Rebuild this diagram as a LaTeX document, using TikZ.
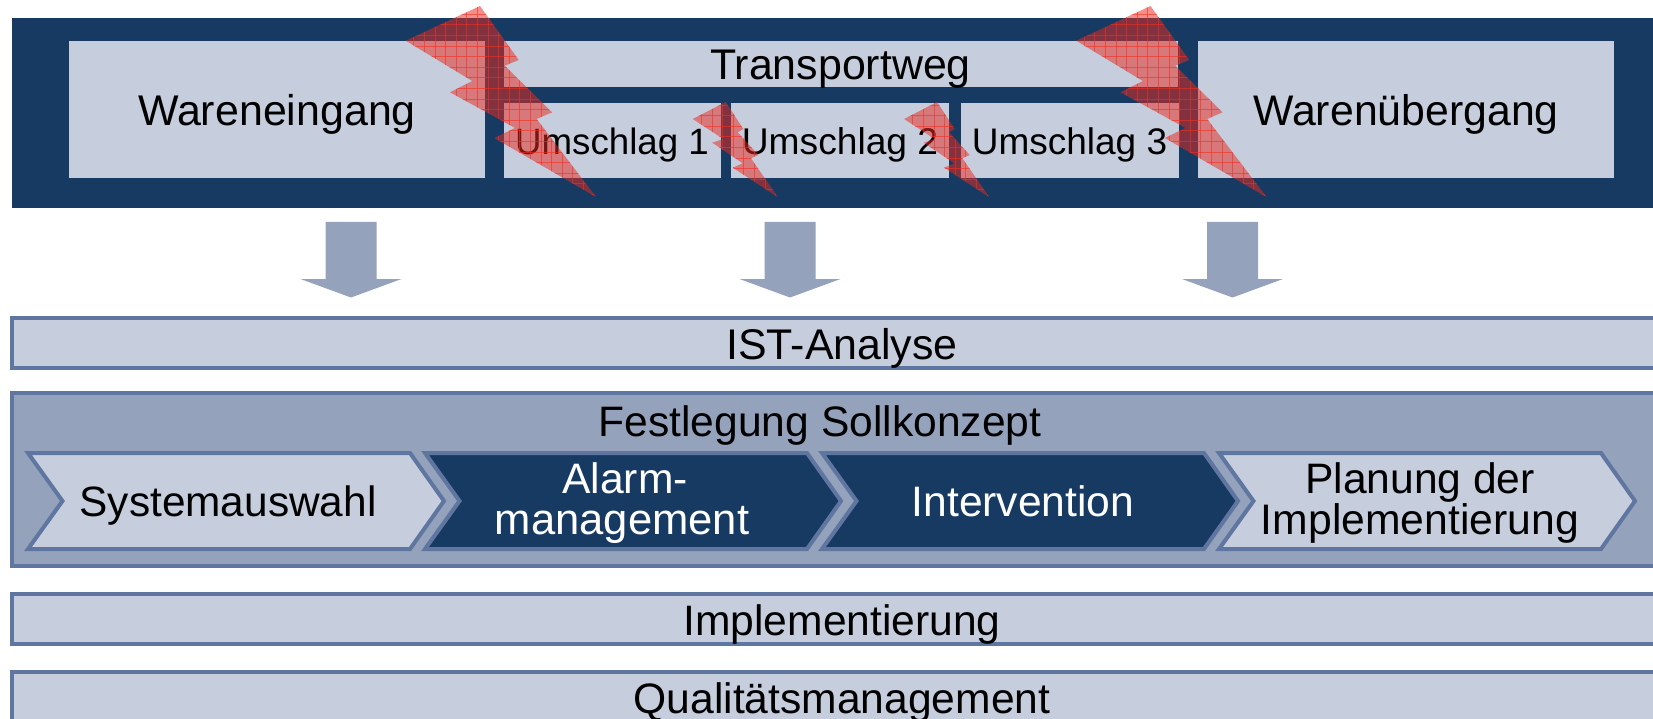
\documentclass[tikz,border=0pt]{standalone}
\usepackage{fontspec}
\setmainfont{Liberation Sans}
\definecolor{navy}{HTML}{173A62}
\definecolor{pale}{HTML}{C6CEDD}
\definecolor{midb}{HTML}{94A2BC}
\definecolor{edge}{HTML}{5F76A0}
\definecolor{gridred}{HTML}{F03020}
\definecolor{boltred}{HTML}{E82A20}
\newcommand{\bigbolt}[1]{%
 \begin{scope}[xshift=#1pt]
  \fill[boltred,fill opacity=.52] (480,6)--(518.7,60)--(504.7,65.7)--(552,112.3)--(536.7,119)--(596,197)--(494.3,138)--(515,128)--(450,92.3)--(472.3,81)--(405.7,40.7)--cycle;
  \begin{scope}
   \clip (480,6)--(518.7,60)--(504.7,65.7)--(552,112.3)--(536.7,119)--(596,197)--(494.3,138)--(515,128)--(450,92.3)--(472.3,81)--(405.7,40.7)--cycle;
   \foreach \k in {-6,...,12} {\draw[gridred,line width=.8pt,opacity=.6] ({466.7+10.6*\k},0)--({466.7+10.6*\k},200);}
   \foreach \k in {-4,...,15} {\draw[gridred,line width=.8pt,opacity=.6] (400,{46+10.6*\k})--(600,{46+10.6*\k});}
  \end{scope}
 \end{scope}}
\newcommand{\smallbolt}[1]{%
 \begin{scope}[xshift=#1pt]
  \fill[boltred,fill opacity=.52] (725.7,102)--(743.3,129)--(737.7,132.3)--(758.3,155)--(751,158.3)--(777.7,197)--(732.7,167.7)--(742.7,163.3)--(712.3,142.7)--(723.3,139)--(692.7,119)--cycle;
  \begin{scope}
   \clip (725.7,102)--(743.3,129)--(737.7,132.3)--(758.3,155)--(751,158.3)--(777.7,197)--(732.7,167.7)--(742.7,163.3)--(712.3,142.7)--(723.3,139)--(692.7,119)--cycle;
   \foreach \k in {-3,...,9} {\draw[gridred,line width=.8pt,opacity=.6] ({690.7+10.6*\k},95)--({690.7+10.6*\k},200);}
   \foreach \k in {0,...,10} {\draw[gridred,line width=.8pt,opacity=.6] (685,{105+10.6*\k})--(785,{105+10.6*\k});}
  \end{scope}
 \end{scope}}
\newcommand{\blockarrow}[1]{%
 \fill[midb] (#1-25.5,222)--(#1+25.5,222)--(#1+25.5,279)--(#1+50.5,279)--(#1,297.5)--(#1-50.5,279)--(#1-25.5,279)--cycle;}
\newcommand{\chevshape}[2]{%
 \draw[edge,line width=4pt,miter limit=10,fill=#2] (#1,453)--(#1+382,453)--(#1+416,501)--(#1+382,549)--(#1,549)--(#1+34.5,501)--cycle;}
\tikzset{
 plate/.style={fill=pale,draw=none,inner sep=0pt,outer sep=0pt,anchor=north west},
 bar/.style={draw=edge,line width=4pt,fill=pale,inner sep=0pt,outer sep=0pt,anchor=north west},
 fs/.style={font=\fontsize{#1}{#1}\selectfont},
 lbl/.style={fs=42.6,anchor=base,inner sep=0pt,text=black},
 inv/.style={lbl,text=white}
}
\begin{document}
\begin{tikzpicture}[x=1pt,y=-1pt]
\clip (0,0) rectangle (1653,719);
\fill[white] (0,0) rectangle (1653,719);
% top band
\fill[navy] (12,18) rectangle (1660,208);
\node[plate,minimum width=416pt,minimum height=137pt] (we) at (69,41) {};
\node[plate,minimum width=674pt,minimum height=46pt] (tw) at (504,41) {};
\node[plate,minimum width=217pt,minimum height=75pt] (u1) at (504,103) {};
\node[plate,minimum width=218pt,minimum height=75pt] (u2) at (731,103) {};
\node[plate,minimum width=218pt,minimum height=75pt] (u3) at (961,103) {};
\node[plate,minimum width=416pt,minimum height=137pt] (wu) at (1198,41) {};
\node[lbl,fs=42.95] (wet) at (277,125.7) {Wareneingang};
\node[lbl,fs=42.9] (twt) at (840.5,80) {Transportweg};
\node[lbl,fs=36.7] (u1t) at (612,155) {Umschlag 1};
\node[lbl,fs=37.2] (u2t) at (840,155) {Umschlag 2};
\node[lbl,fs=37] (u3t) at (1069.5,155) {Umschlag 3};
\node[lbl,fs=42.8] (wut) at (1406,125.7) {Warenübergang};
% down arrows
\blockarrow{351}
\blockarrow{790}
\blockarrow{1232.5}
% bars
\node[bar,minimum width=1700pt,minimum height=50pt] (ist) at (12,318) {};
\node[lbl,fs=42.9] (istt) at (842,359.7) {IST-Analyse};
\node[bar,fill=midb,minimum width=1700pt,minimum height=173pt] (fest) at (12,393) {};
\node[lbl] (festt) at (820,436.2) {Festlegung Sollkonzept};
\chevshape{28}{pale}
\chevshape{425}{navy}
\chevshape{822}{navy}
\chevshape{1219}{pale}
\node[lbl,fs=42.4] (c1) at (228,516) {Systemauswahl};
\node[inv] (c2a) at (625,493) {Alarm-};
\node[inv,fs=43.6] (c2b) at (622,534) {management};
\node[inv] (c3) at (1023,516.3) {Intervention};
\node[lbl] (c4a) at (1420,493.2) {Planung der};
\node[lbl,fs=42.7] (c4b) at (1420,534) {Implementierung};
\node[bar,minimum width=1700pt,minimum height=50pt] (imp) at (12,594) {};
\node[lbl] (impt) at (842,635) {Implementierung};
\node[bar,minimum width=1700pt,minimum height=80pt] (qm) at (12,672) {};
\node[lbl] (qmt) at (842,713.7) {Qualitätsmanagement};
% lightning
\bigbolt{0}
\bigbolt{670.5}
\smallbolt{0}
\smallbolt{211.4}
\end{tikzpicture}
\end{document}
